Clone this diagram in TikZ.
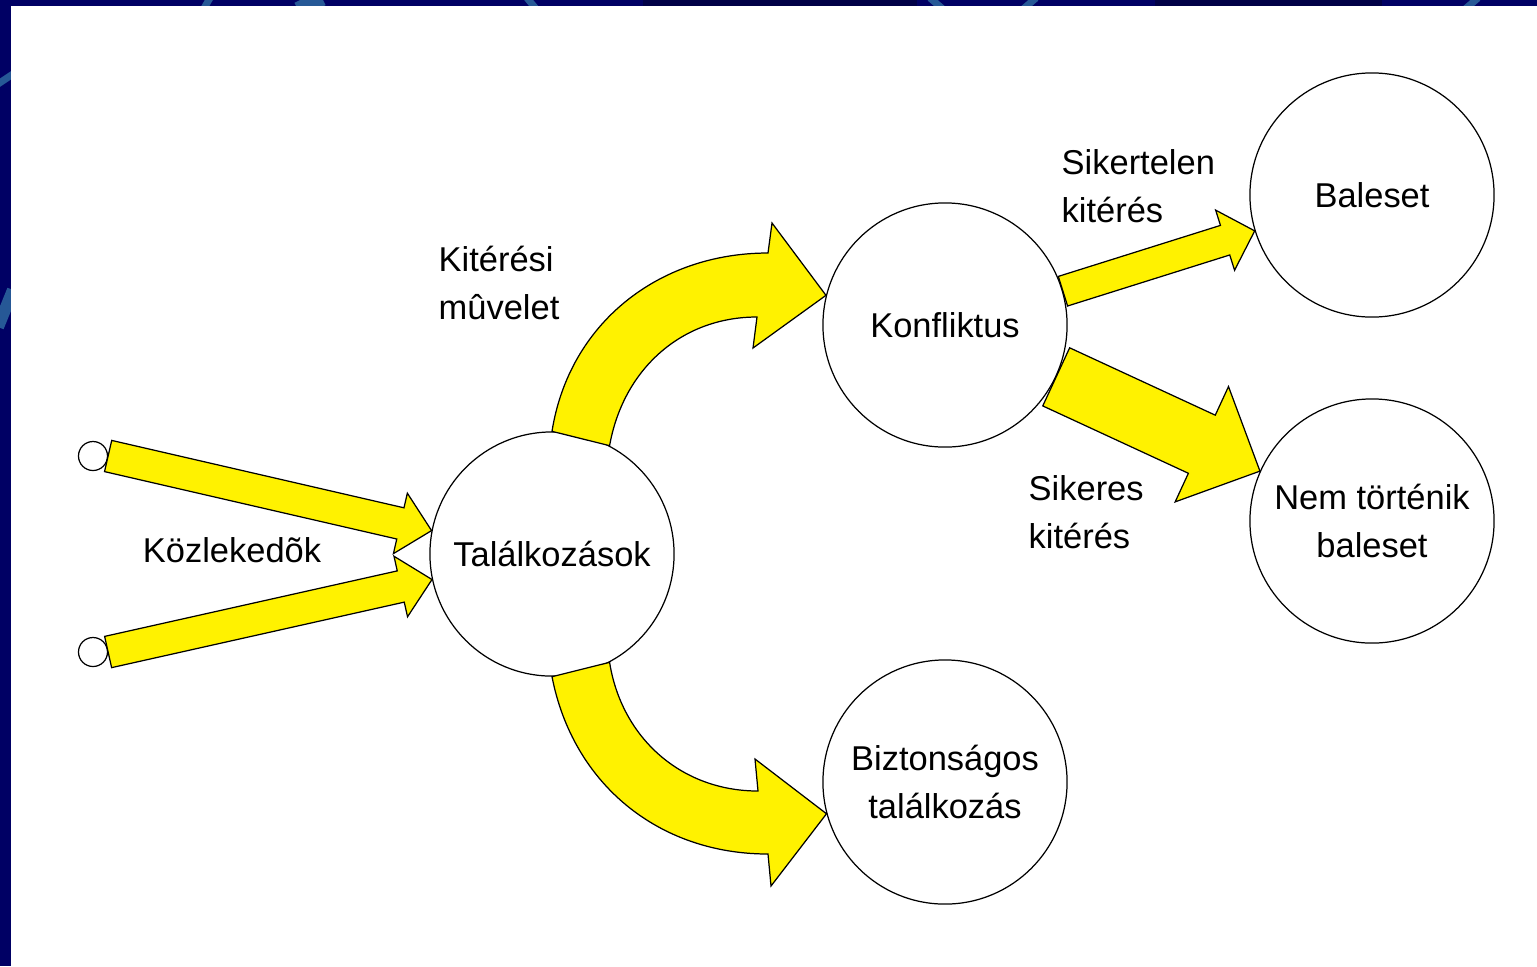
\documentclass[tikz,border=0pt]{standalone}
\usepackage{fontspec}
\setmainfont{Liberation Sans}
\usetikzlibrary{calc}

\definecolor{framenavy}{RGB}{0,0,100}
\definecolor{framedark}{RGB}{0,0,70}
\definecolor{stripeblue}{RGB}{38,88,150}
\newcommand{\lbl}{\fontsize{9.8}{13.6}\selectfont}

% straight block arrow: #1 tail, #2 tip, #3 half shaft, #4 half head, #5 head length
\newcommand{\blockarrow}[5]{%
  \coordinate (ba-base) at ($(#2)!#5!(#1)$);
  \filldraw[yellowarrow] ($(#1)!#3!90:(#2)$) -- ($(ba-base)!#3!90:(#2)$)
    -- ($(ba-base)!#4!90:(#2)$) -- (#2) -- ($(ba-base)!#4!-90:(#2)$)
    -- ($(ba-base)!#3!-90:(#2)$) -- ($(#1)!#3!-90:(#2)$) -- cycle;}

\begin{document}
\begin{tikzpicture}[x=0.01cm,y=-0.01cm,
    phase/.style={circle,draw,line width=0.35pt,minimum size=2.44cm,align=center,font=\lbl},
    entry/.style={circle,draw,line width=0.35pt,fill=white,minimum size=0.29cm},
    yellowarrow/.style={fill=yellow,draw=black,line width=0.35pt,line join=miter},
    stripe/.style={stripeblue,line width=0.07cm},
    label/.style={font=\lbl,align=left}]
		\tikzstyle{every node}+=[inner sep=0pt]
		\useasboundingbox (0,0) rectangle (1537,966);
		% frame
		\fill [framenavy] (0,0) rectangle (1537,966);
		\fill [framedark] (643,0) rectangle (917,6);
		\fill [framedark] (1155,0) rectangle (1382,6);
		\draw [stripe] (210,-2) -- (203,10);
		\draw [stripe,line width=0.16cm] (322,-2) -- (298,10);
		\draw [stripe] (527,-2) -- (537,10);
		\draw [stripe] (930,-2) -- (944,10);
		\draw [stripe] (1036,-2) -- (1022,10);
		\draw [stripe] (1478,-2) -- (1464,10);
		\draw [stripe] (-2,84) -- (13,74);
		\draw [stripe,line width=0.12cm] (-2,327) -- (13,290);
		\fill [white] (11,6) rectangle (1537,966);
		% circles
		\node [phase] (T) at (552,554) {Találkozások};
		\node [phase] (K) at (945,325) {Konfliktus};
		\node [phase] (Bal) at (1372,195) {Baleset};
		\node [phase] (N) at (1372,521) {Nem történik\\baleset};
		\node [phase] (Bz) at (945,782) {Biztonságos\\találkozás};
		\node [entry] (s1) at (93,456) {};
		\node [entry] (s2) at (93,652) {};
		% arrows
		\blockarrow{s1.east}{T.169}{0.16cm}{0.31cm}{0.32cm}
		\blockarrow{s2.east}{T.192}{0.16cm}{0.31cm}{0.32cm}
		\blockarrow{K.16}{Bal.197}{0.155cm}{0.315cm}{0.31cm}
		\blockarrow{K.-25}{N.156}{0.32cm}{0.635cm}{0.64cm}
		\filldraw [yellowarrow] (T.90) to[out=81,in=180] (768,253) -- (772,223) -- (K.166)
			-- (753,348) -- (757,317) to[out=180,in=80] (T.62) -- cycle;
		\filldraw [yellowarrow] (T.270) to[out=-79,in=180] (768,854) -- (771,886) -- (Bz.195)
			-- (755,759) -- (758,791) to[out=180,in=-81] (T.298) -- cycle;
		% labels
		\node [label,anchor=west] (kit) at (438,283) {Kitérési\\mûvelet};
		\node [label] (koz) at (232,550) {Közlekedõk};
		\node [label,anchor=west] (sikt) at (1061,186) {Sikertelen\\kitérés};
		\node [label,anchor=west] (sik) at (1028,512) {Sikeres\\kitérés};
	\end{tikzpicture}
\end{document}
